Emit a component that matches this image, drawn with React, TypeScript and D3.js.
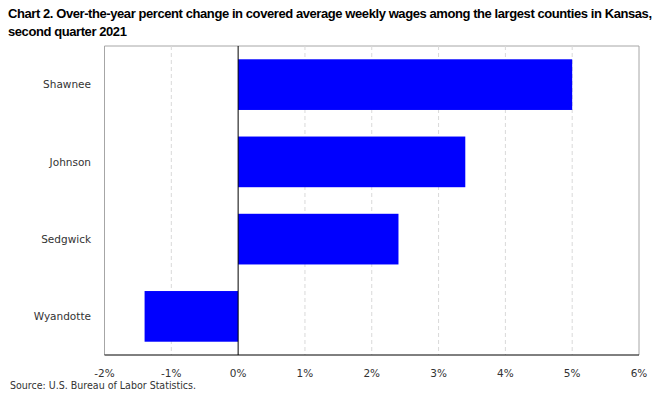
import React from 'react';
import * as d3 from 'd3';

const counties = ['Shawnee', 'Johnson', 'Sedgwick', 'Wyandotte'];
const changes = [5.0, 3.4, 2.4, -1.4];
const ticks = [-2, -1, 0, 1, 2, 3, 4, 5, 6];

const titleLines = [
    'Chart 2. Over-the-year percent change in covered average weekly wages among the largest counties in Kansas,',
    'second quarter 2021',
];

const width = 663;
const height = 394;
const margin = { top: 46, right: 24, bottom: 39, left: 104.5 };

const App: React.FC = () => {
    const x = d3
        .scaleLinear()
        .domain([-2, 6])
        .range([margin.left, width - margin.right]);

    const y = d3
        .scaleBand()
        .domain(counties)
        .range([margin.top, height - margin.bottom])
        .paddingInner(0.344)
        .paddingOuter(0.172);

    const top = margin.top;
    const bottom = height - margin.bottom;
    const font = '"DejaVu Sans", Verdana, sans-serif';
    const titleFont = '"Liberation Sans", Arial, sans-serif';

    return (
        <svg width={width} height={height} style={{ position: 'absolute', left: 0, top: 0 }}>
            <rect width={width} height={height} fill="#fff" />

            {/* titulo */}
            <text x={8} y={18} fontFamily={titleFont} fontWeight="bold" fontSize={13}
                letterSpacing={-0.42} fill="#000">{titleLines[0]}</text>
            <text x={8} y={36} fontFamily={titleFont} fontWeight="bold" fontSize={13}
                letterSpacing={-0.42} fill="#000">{titleLines[1]}</text>

            {/* marco */}
            <line x1={x(-2)} x2={x(6)} y1={top} y2={top} stroke="#a6a6a6" />
            <line x1={x(-2)} x2={x(-2)} y1={top} y2={bottom} stroke="#a6a6a6" />
            <line x1={x(6)} x2={x(6)} y1={top} y2={bottom} stroke="#a6a6a6" />

            {/* lineas de cuadricula */}
            {ticks.filter(t => t !== 0 && t !== -2 && t !== 6).map(t => (
                <line key={t} x1={x(t)} x2={x(t)} y1={top} y2={bottom}
                    stroke="#d9d9d9" strokeDasharray="4,3" />
            ))}

            {/* barras */}
            {counties.map((c, i) => (
                <rect key={c}
                    x={x(Math.min(0, changes[i]))}
                    y={y(c) as number}
                    width={Math.abs(x(changes[i]) - x(0))}
                    height={y.bandwidth()}
                    fill="#0000ff" />
            ))}

            {/* eje cero y eje inferior */}
            <line x1={x(0)} x2={x(0)} y1={top} y2={bottom} stroke="#000" />
            <line x1={x(-2)} x2={x(6)} y1={bottom} y2={bottom} stroke="#000" />

            {/* etiquetas de categorias */}
            {counties.map(c => (
                <text key={c} x={91} y={(y(c) as number) + y.bandwidth() / 2} dy="0.35em"
                    textAnchor="end" fontFamily={font} fontSize={10.5} fill="#333">{c}</text>
            ))}

            {/* etiquetas del eje x */}
            {ticks.map(t => (
                <text key={t} x={x(t)} y={377} textAnchor="middle" fontFamily={font} fontSize={10.5}
                    fill="#333">{`${t}%`}</text>
            ))}

            <text x={10} y={389} fontFamily={font} fontSize={10} fill="#333"
                textLength={186} lengthAdjust="spacingAndGlyphs">
                Source: U.S. Bureau of Labor Statistics.
            </text>
        </svg>
    );
};

export default App;
